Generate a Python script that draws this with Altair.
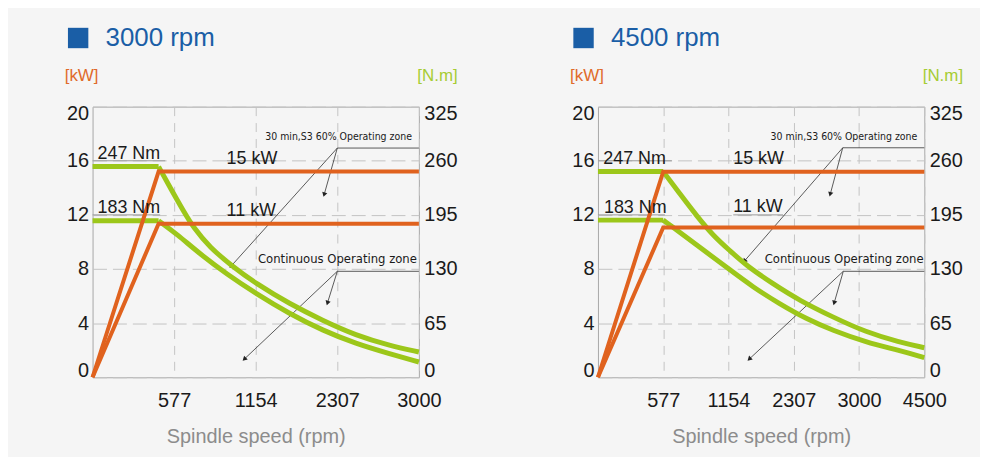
import math
import altair as alt
import numpy as np
import pandas as pd

W, H = 328, 272
KW_MAX, NM_MAX = 20, 325

ORANGE = "#e0621e"
GREEN = "#9cc71a"
BLUE = "#1a5ea6"
FONT = "Liberation Sans"
NARROW = "DejaVu Sans Condensed, Liberation Sans Narrow, Liberation Sans, sans-serif"

# ---------------- 3000 rpm panel ----------------
A_TITLE = "3000 rpm"
A_TICKS = [0, 577, 1154, 2307, 3000]
A_P15_RPM = [0, 467, 3000]
A_P15_KW = [0, 15.2, 15.2]
A_P11_RPM = [0, 467, 3000]
A_P11_KW = [0, 11.35, 11.35]
A_T1_FLAT_RPM = [0, 467]
A_T1_FLAT_NM = [253, 253]
A_T1_RPM = [467, 549, 642, 713, 830, 983, 1164, 1632, 2100, 2465, 2747, 3000]
A_T1_NM = [253, 227.7, 199.8, 179.8, 155.9, 134.0, 112.1, 88.2, 68.2, 50.3, 38.3, 30.3]
A_T2_FLAT_RPM = [0, 467]
A_T2_FLAT_NM = [188, 188]
A_T2_RPM = [467, 596, 760, 948, 1164, 1632, 2100, 2465, 2747, 3000]
A_T2_NM = [188, 172, 148, 124.1, 100.2, 76.2, 56.2, 40.3, 28.4, 18.3]
A_LABELS = ["247 Nm", "15 kW", "183 Nm", "11 kW"]
A_LABEL_RPM = [35, 948, 35, 948]
A_LABEL_KW = [16.5, 16.13, 12.54, 12.25]
A_ULINE_RPM = [0, 948, 0, 948]
A_ULINE_RPM2 = [514, 1445, 478, 1445]
A_ULINE_KW = [16, 16, 12, 12]
A_ZONE_TEXT = ["30 min,S3 60% Operating zone", "Continuous Operating zone"]
A_ZONE_TEXT_RPM = [2941, 2983]
A_ZONE_TEXT_KW = [17.78, 8.76]
A_ZONE_SIZE = [10.5, 13]
A_ZONE_ORIGIN_RPM = [2307, 2307]
A_ZONE_ORIGIN_KW = [16.94, 7.83]
A_ZONE_END_RPM = [3000, 3000]
A_ARROW_ZONE = [0, 0, 1, 1]
A_ARROW_RPM = [983, 2124, 1077, 2171]
A_ARROW_KW = [8.25, 13.55, 1.38, 5.54]

# ---------------- 4500 rpm panel ----------------
B_TITLE = "4500 rpm"
B_TICKS = [0, 577, 1154, 2307, 3000, 4500]
B_P15_RPM = [0, 577, 4500]
B_P15_KW = [0, 15.19, 15.19]
B_P11_RPM = [0, 577, 4500]
B_P11_KW = [0, 11.07, 11.07]
B_T1_FLAT_RPM = [0, 577]
B_T1_FLAT_NM = [247, 247]
B_T1_RPM = [577, 727, 873, 1020, 1179, 1472, 1941, 2370, 2723, 3158, 3919, 4500]
B_T1_NM = [247, 219.8, 193.8, 169.9, 152.0, 134.0, 112.1, 92.1, 72.2, 54.2, 42.2, 35.5]
B_T2_FLAT_RPM = [0, 577]
B_T2_FLAT_NM = [188.7, 188.7]
B_T2_RPM = [577, 727, 902, 1137, 1590, 2057, 2439, 2723, 3158, 3919, 4500]
B_T2_NM = [188.7, 173.9, 155.9, 132.0, 108.1, 88.2, 70.2, 56.2, 42.2, 32.3, 23.6]
B_LABELS = ["247 Nm", "15 kW", "183 Nm", "11 kW"]
B_LABEL_RPM = [47, 1238, 53, 1238]
B_LABEL_KW = [16.1, 16.1, 12.54, 12.6]
B_ULINE_RPM = [0, 1238, 0, 1238]
B_ULINE_RPM2 = [653, 2117, 592, 2117]
B_ULINE_KW = [16, 16, 12, 12]
B_ZONE_TEXT = ["30 min,S3 60% Operating zone", "Continuous Operating zone"]
B_ZONE_TEXT_RPM = [4340, 4484]
B_ZONE_TEXT_KW = [17.78, 8.76]
B_ZONE_SIZE = [10.5, 13]
B_ZONE_ORIGIN_RPM = [2827, 2833]
B_ZONE_ORIGIN_KW = [16.96, 7.83]
B_ZONE_END_RPM = [4500, 4500]
B_ARROW_ZONE = [0, 0, 1, 1]
B_ARROW_RPM = [1442, 2696, 1530, 2738]
B_ARROW_KW = [8.62, 13.57, 1.38, 5.54]


def panel(title, ticks, power, torque_flat, torque_curve, labels, ulines,
          zone_text, zone_origin, zone_end, arrows):
    n = len(ticks)
    rng = [round(W * i / (n - 1), 3) for i in range(n)]
    xs = alt.Scale(domain=ticks, range=rng, nice=False)
    ys = alt.Scale(domain=[0, KW_MAX], nice=False)
    xaxis = alt.Axis(values=ticks[1:], format="d", grid=True, gridDash=[9, 7],
                     gridColor="#c4c4c4", ticks=False, domain=False, labelFont=FONT,
                     labelFontSize=20, labelColor="#1a1a1a", labelPadding=13,
                     labelFlush=False, labelOverlap=False, title="Spindle speed (rpm)",
                     titleFont=FONT, titleFontSize=20, titleFontWeight="normal",
                     titleColor="#8c8c8c", titlePadding=17)
    left_axis = alt.Axis(orient="left", values=[0, 4, 8, 12, 16, 20], grid=True,
                         gridDash=[14, 6], gridColor="#c4c4c4", ticks=False, domain=False,
                         labelFont=FONT, labelFontSize=20, labelColor="#1a1a1a",
                         labelPadding=4, labelFlush=True, labelFlushOffset=3, title=None)
    right_axis = alt.Axis(orient="right", values=[0, 4, 8, 12, 16, 20], grid=False,
                          labelExpr=f"format(datum.value * {NM_MAX} / {KW_MAX}, 'd')",
                          ticks=False, domain=False, labelFont=FONT, labelFontSize=20,
                          labelColor="#1a1a1a", labelPadding=5, labelFlush=True,
                          labelFlushOffset=3, title=None)

    def X(f):
        return alt.X(f"{f}:Q", scale=xs, axis=xaxis)

    def X2(f):
        return alt.X2(f"{f}:Q")

    def Y(f, axis=None):
        return alt.Y(f"{f}:Q", scale=ys, axis=axis)

    # power lines
    prow = []
    for s, (r, k) in enumerate(power):
        for i, (a, b) in enumerate(zip(r, k)):
            prow.append({"s": s, "i": i, "rpm": a, "kw": b})
    power_layer = alt.Chart(pd.DataFrame(prow)).mark_line(
        color=ORANGE, strokeWidth=4).encode(
        x=X("rpm"), y=Y("kw", left_axis), detail="s:N", order="i:Q")

    def torque_df(series):
        rows = []
        for s, (r, t) in enumerate(series):
            for i, (a, b) in enumerate(zip(r, t)):
                rows.append({"s": s, "i": i, "rpm": a, "nm": b})
        return pd.DataFrame(rows)

    tflat_layer = alt.Chart(torque_df(torque_flat)).transform_calculate(
        kw=f"datum.nm * {KW_MAX} / {NM_MAX}").mark_line(
        color=GREEN, strokeWidth=5).encode(
        x=X("rpm"), y=Y("kw"), detail="s:N", order="i:Q")
    tcurve_layer = alt.Chart(torque_df(torque_curve)).transform_calculate(
        kw=f"datum.nm * {KW_MAX} / {NM_MAX}").mark_line(
        color=GREEN, strokeWidth=5, interpolate="basis").encode(
        x=X("rpm"), y=Y("kw", right_axis), detail="s:N", order="i:Q")

    # underline segments of the value labels
    ul = pd.DataFrame({"rpm": ulines[0], "rpm2": ulines[1], "kw": ulines[2]})
    ul_layer = alt.Chart(ul).mark_rule(color="#9a9a9a", strokeWidth=1).encode(
        x=X("rpm"), x2=X2("rpm2"), y=Y("kw"))

    lab = pd.DataFrame({"t": labels[0], "rpm": labels[1], "kw": labels[2]})
    lab_layer = alt.Chart(lab).mark_text(
        align="left", baseline="middle", font=FONT, fontSize=18, color="#1a1a1a").encode(
        x=X("rpm"), y=Y("kw"), text="t:N")

    # leader lines
    segs = []
    for z in range(2):
        segs.append({"rpm": zone_origin[0][z], "kw": zone_origin[1][z],
                     "rpm2": zone_end[z], "kw2": zone_origin[1][z]})
    for z, r, k in zip(*arrows):
        segs.append({"rpm": zone_origin[0][z], "kw": zone_origin[1][z], "rpm2": r, "kw2": k})
    seg_layer = alt.Chart(pd.DataFrame(segs)).mark_rule(
        color="#333333", strokeWidth=0.8).encode(
        x=X("rpm"), x2=X2("rpm2"), y=Y("kw"), y2=alt.Y2("kw2:Q"))

    # arrow heads, rotated along the leader line
    def px(v):
        return float(np.interp(v, ticks, rng))

    def py(v):
        return H - v * H / KW_MAX

    heads = []
    for z, r, k in zip(*arrows):
        ox, oy = px(zone_origin[0][z]), py(zone_origin[1][z])
        tx, ty = px(r), py(k)
        ang = math.degrees(math.atan2(tx - ox, -(ty - oy))) % 360
        heads.append({"rpm": r, "kw": k, "ang": ang})
    head_layer = alt.Chart(pd.DataFrame(heads)).mark_point(
        shape="triangle", filled=True, color="#222222", opacity=1, size=28).encode(
        x=X("rpm"), y=Y("kw"), angle=alt.Angle("ang:Q", scale=None))

    zt_layers = []
    for z in range(2):
        zdf = pd.DataFrame({"t": [zone_text[0][z]], "rpm": [zone_text[1][z]],
                            "kw": [zone_text[2][z]]})
        zt_layers.append(alt.Chart(zdf).mark_text(
            align="right", baseline="middle", font=NARROW, fontSize=zone_text[3][z],
            color="#1a1a1a").encode(x=X("rpm"), y=Y("kw"), text="t:N"))

    # heading and axis units, anchored at the top corners of the plot
    corner_l = pd.DataFrame({"rpm": [ticks[0]], "kw": [KW_MAX]})
    corner_r = pd.DataFrame({"rpm": [ticks[-1]], "kw": [KW_MAX]})
    sq = alt.Chart(corner_l).mark_square(
        color=BLUE, filled=True, opacity=1, size=420, xOffset=-14.5, yOffset=-69).encode(
        x=X("rpm"), y=Y("kw"))
    ttl = alt.Chart(corner_l).mark_text(
        text=title, align="left", baseline="middle", dx=13, dy=-69, font=FONT,
        fontSize=26, color=BLUE).encode(x=X("rpm"), y=Y("kw"))
    kw_unit = alt.Chart(corner_l).mark_text(
        text="[kW]", align="left", baseline="middle", dx=-28, dy=-31, font=FONT,
        fontSize=17, color="#e06a2a").encode(x=X("rpm"), y=Y("kw"))
    nm_unit = alt.Chart(corner_r).mark_text(
        text="[N.m]", align="right", baseline="middle", dx=39, dy=-31, font=FONT,
        fontSize=17, color="#a6cc33").encode(x=X("rpm"), y=Y("kw"))

    layers = [ul_layer, seg_layer, head_layer, tflat_layer, tcurve_layer, power_layer,
              lab_layer] + zt_layers + [sq, ttl, kw_unit, nm_unit]
    return alt.layer(*layers).resolve_axis(y="independent").properties(width=W, height=H)


pA = panel(A_TITLE, A_TICKS,
           [(A_P15_RPM, A_P15_KW), (A_P11_RPM, A_P11_KW)],
           [(A_T1_FLAT_RPM, A_T1_FLAT_NM), (A_T2_FLAT_RPM, A_T2_FLAT_NM)],
           [(A_T1_RPM, A_T1_NM), (A_T2_RPM, A_T2_NM)],
           (A_LABELS, A_LABEL_RPM, A_LABEL_KW),
           (A_ULINE_RPM, A_ULINE_RPM2, A_ULINE_KW),
           (A_ZONE_TEXT, A_ZONE_TEXT_RPM, A_ZONE_TEXT_KW, A_ZONE_SIZE),
           (A_ZONE_ORIGIN_RPM, A_ZONE_ORIGIN_KW), A_ZONE_END_RPM,
           (A_ARROW_ZONE, A_ARROW_RPM, A_ARROW_KW))
pB = panel(B_TITLE, B_TICKS,
           [(B_P15_RPM, B_P15_KW), (B_P11_RPM, B_P11_KW)],
           [(B_T1_FLAT_RPM, B_T1_FLAT_NM), (B_T2_FLAT_RPM, B_T2_FLAT_NM)],
           [(B_T1_RPM, B_T1_NM), (B_T2_RPM, B_T2_NM)],
           (B_LABELS, B_LABEL_RPM, B_LABEL_KW),
           (B_ULINE_RPM, B_ULINE_RPM2, B_ULINE_KW),
           (B_ZONE_TEXT, B_ZONE_TEXT_RPM, B_ZONE_TEXT_KW, B_ZONE_SIZE),
           (B_ZONE_ORIGIN_RPM, B_ZONE_ORIGIN_KW), B_ZONE_END_RPM,
           (B_ARROW_ZONE, B_ARROW_RPM, B_ARROW_KW))

chart = alt.hconcat(pA, pB, spacing=111).configure(
    background="#f5f5f5",
    padding={"left": 56, "top": 15, "right": 16, "bottom": 8},
).configure_view(stroke="#a8a8a8", strokeWidth=1)

chart.save("out.html", embed_options={"renderer": "svg", "actions": False})
